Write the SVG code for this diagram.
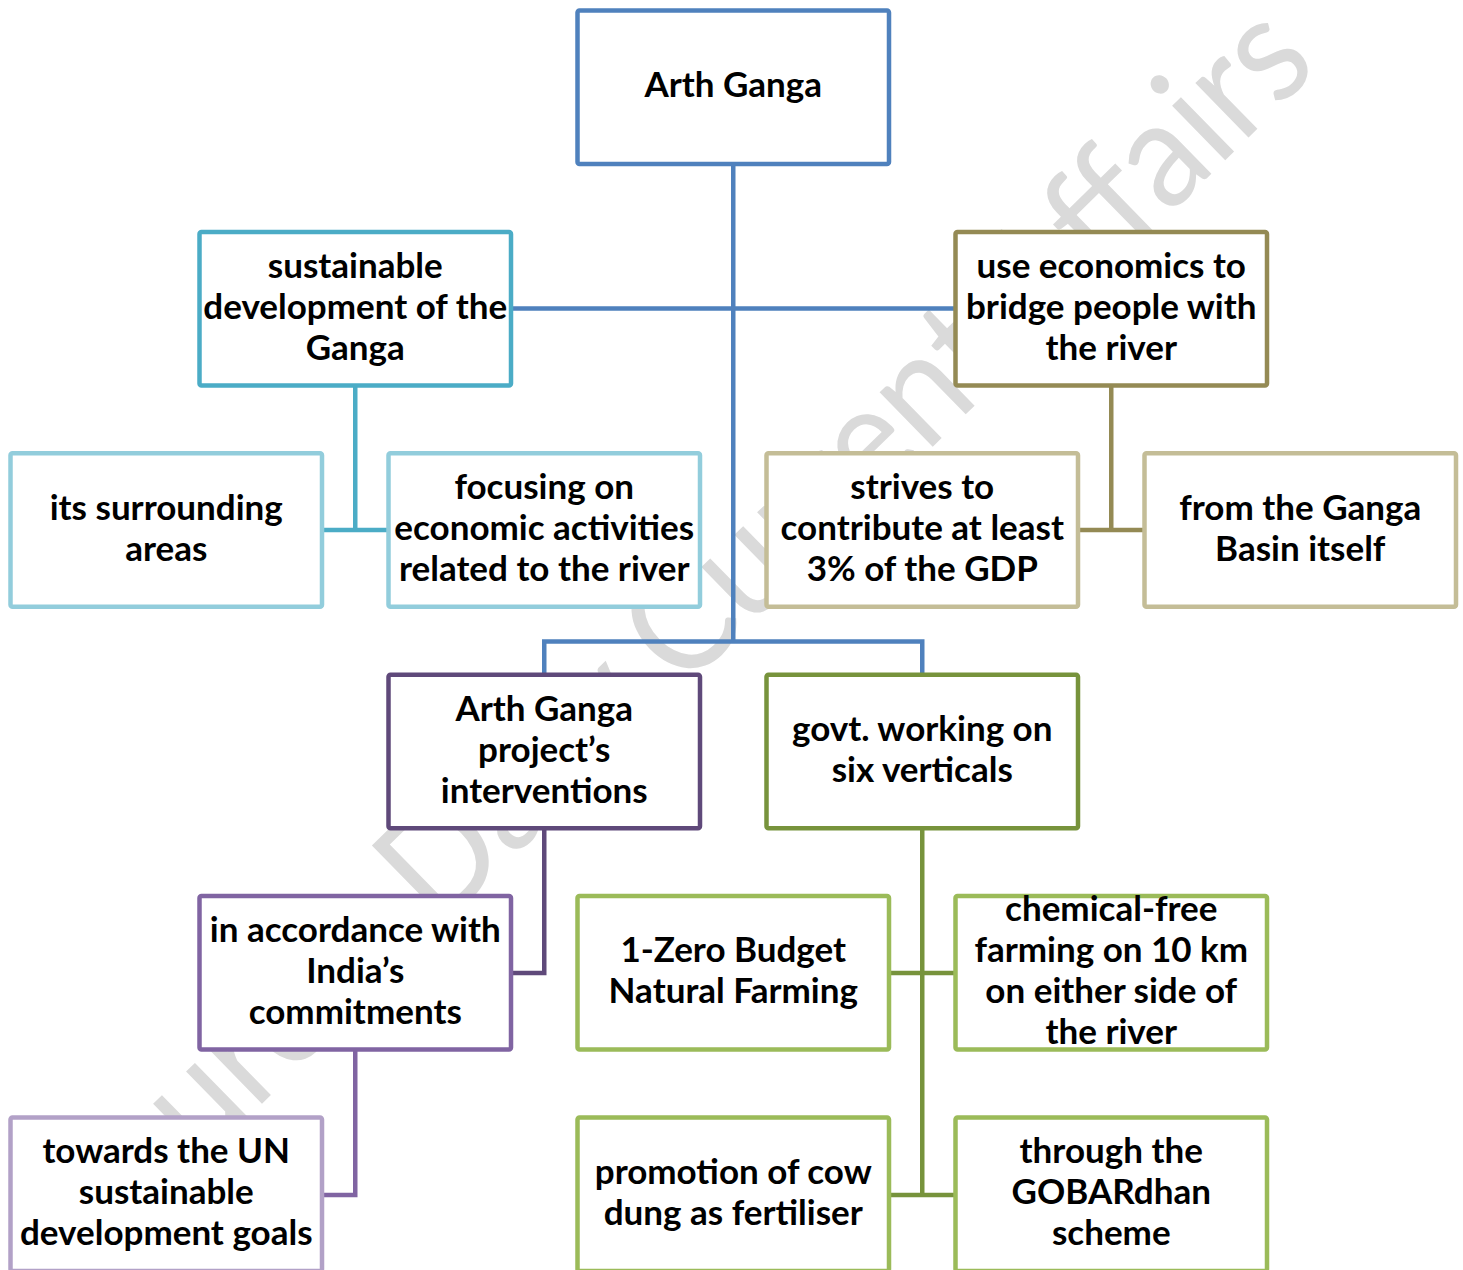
<svg xmlns="http://www.w3.org/2000/svg" width="1463" height="1270" viewBox="0 0 1463 1270">
<style>
.box{fill:#fff;stroke-width:4.5}
.lbl{font-family:Lato,"Open Sans","Liberation Sans",sans-serif;font-weight:700;font-size:35px;text-anchor:middle;fill:#000}
.wm{font-family:Lato,"Open Sans","Liberation Sans",sans-serif;font-weight:400;font-size:150px;fill:#dadada}
.cn{fill:none;stroke-width:4.5;stroke-linejoin:miter;stroke-linecap:butt}
</style>
<rect width="1463" height="1270" fill="#fff"/>
<text class="wm" transform="translate(90,1272) rotate(-44.4)" textLength="1722" lengthAdjust="spacingAndGlyphs">Source: Daily Current Affairs</text>
<g id="connectors">
<path class="cn" stroke="#4f81bd" d="M733.25,164 V641.5 M511.25,308.5 H955.5 M544.25,674.7 V641.5 H922.25 V674.7"/>
<path class="cn" stroke="#4bacc6" d="M355.25,385.4 V530 M322,530 H388.5"/>
<path class="cn" stroke="#948a54" d="M1111.25,385.4 V530 M1078,530 H1144.5"/>
<path class="cn" stroke="#5f497a" d="M544.25,828.2 V973 H511"/>
<path class="cn" stroke="#8064a2" d="M355.25,1049.6 V1195 H322"/>
<path class="cn" stroke="#77933c" d="M922.25,828.2 V1195 M889,973 H955.5 M889,1195 H955.5"/>
</g>
<g id="n-arth-ganga">
<rect class="box" stroke="#4f81bd" x="577.5" y="10.5" width="311.5" height="153.5" rx="2"/>
<text class="lbl" x="733.25" y="97.3">Arth Ganga</text>
</g>
<g id="n-sustainable">
<rect class="box" stroke="#4bacc6" x="199.5" y="231.9" width="311.5" height="153.5" rx="2"/>
<text class="lbl" x="355.25"><tspan x="355.25" y="277.6">sustainable</tspan><tspan x="355.25" y="318.6">development of the</tspan><tspan x="355.25" y="359.6">Ganga</tspan></text>
</g>
<g id="n-use-economics">
<rect class="box" stroke="#948a54" x="955.5" y="231.9" width="311.5" height="153.5" rx="2"/>
<text class="lbl" x="1111.25"><tspan x="1111.25" y="277.6">use economics to</tspan><tspan x="1111.25" y="318.6">bridge people with</tspan><tspan x="1111.25" y="359.6">the river</tspan></text>
</g>
<g id="n-surrounding">
<rect class="box" stroke="#92cddc" x="10.5" y="453.3" width="311.5" height="153.5" rx="2"/>
<text class="lbl" x="166.25"><tspan x="166.25" y="519.5">its surrounding</tspan><tspan x="166.25" y="560.5">areas</tspan></text>
</g>
<g id="n-focusing">
<rect class="box" stroke="#92cddc" x="388.5" y="453.3" width="311.5" height="153.5" rx="2"/>
<text class="lbl" x="544.25"><tspan x="544.25" y="499">focusing on</tspan><tspan x="544.25" y="540">economic activities</tspan><tspan x="544.25" y="581">related to the river</tspan></text>
</g>
<g id="n-strives">
<rect class="box" stroke="#c4bd97" x="766.5" y="453.3" width="311.5" height="153.5" rx="2"/>
<text class="lbl" x="922.25"><tspan x="922.25" y="499">strives to</tspan><tspan x="922.25" y="540">contribute at least</tspan><tspan x="922.25" y="581">3% of the GDP</tspan></text>
</g>
<g id="n-basin">
<rect class="box" stroke="#c4bd97" x="1144.5" y="453.3" width="311.5" height="153.5" rx="2"/>
<text class="lbl" x="1300.25"><tspan x="1300.25" y="519.5">from the Ganga</tspan><tspan x="1300.25" y="560.5">Basin itself</tspan></text>
</g>
<g id="n-interventions">
<rect class="box" stroke="#5f497a" x="388.5" y="674.7" width="311.5" height="153.5" rx="2"/>
<text class="lbl" x="544.25"><tspan x="544.25" y="720.5">Arth Ganga</tspan><tspan x="544.25" y="761.5">project’s</tspan><tspan x="544.25" y="802.5">interventions</tspan></text>
</g>
<g id="n-govt">
<rect class="box" stroke="#77933c" x="766.5" y="674.7" width="311.5" height="153.5" rx="2"/>
<text class="lbl" x="922.25"><tspan x="922.25" y="741">govt. working on</tspan><tspan x="922.25" y="782">six verticals</tspan></text>
</g>
<g id="n-accordance">
<rect class="box" stroke="#8064a2" x="199.5" y="896.1" width="311.5" height="153.5" rx="2"/>
<text class="lbl" x="355.25"><tspan x="355.25" y="941.9">in accordance with</tspan><tspan x="355.25" y="982.9">India’s</tspan><tspan x="355.25" y="1023.9">commitments</tspan></text>
</g>
<g id="n-zbnf">
<rect class="box" stroke="#9bbb59" x="577.5" y="896.1" width="311.5" height="153.5" rx="2"/>
<text class="lbl" x="733.25"><tspan x="733.25" y="962.4">1-Zero Budget</tspan><tspan x="733.25" y="1003.4">Natural Farming</tspan></text>
</g>
<g id="n-chemical-free">
<rect class="box" stroke="#9bbb59" x="955.5" y="896.1" width="311.5" height="153.5" rx="2"/>
<text class="lbl" x="1111.25"><tspan x="1111.25" y="921.4">chemical-free</tspan><tspan x="1111.25" y="962.4">farming on 10 km</tspan><tspan x="1111.25" y="1003.4">on either side of</tspan><tspan x="1111.25" y="1044.4">the river</tspan></text>
</g>
<g id="n-sdg">
<rect class="box" stroke="#b2a1c7" x="10.5" y="1117.5" width="311.5" height="153.5" rx="2"/>
<text class="lbl" x="166.25"><tspan x="166.25" y="1163.3">towards the UN</tspan><tspan x="166.25" y="1204.3">sustainable</tspan><tspan x="166.25" y="1245.3">development goals</tspan></text>
</g>
<g id="n-cow-dung">
<rect class="box" stroke="#9bbb59" x="577.5" y="1117.5" width="311.5" height="153.5" rx="2"/>
<text class="lbl" x="733.25"><tspan x="733.25" y="1183.8">promotion of cow</tspan><tspan x="733.25" y="1224.8">dung as fertiliser</tspan></text>
</g>
<g id="n-gobardhan">
<rect class="box" stroke="#9bbb59" x="955.5" y="1117.5" width="311.5" height="153.5" rx="2"/>
<text class="lbl" x="1111.25"><tspan x="1111.25" y="1163.3">through the</tspan><tspan x="1111.25" y="1204.3">GOBARdhan</tspan><tspan x="1111.25" y="1245.3">scheme</tspan></text>
</g>
</svg>
